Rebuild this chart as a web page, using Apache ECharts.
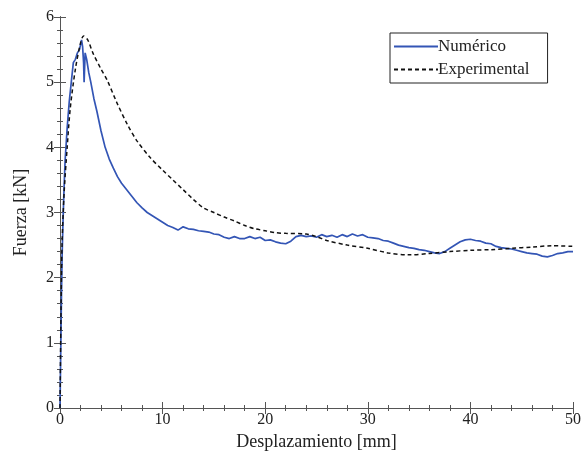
<!DOCTYPE html>
<html><head><meta charset="utf-8">
<script src="https://cdn.jsdelivr.net/npm/echarts@6/dist/echarts.min.js"></script>
<style>html,body{margin:0;padding:0;background:#fff}#c{width:584px;height:457px}</style>
</head><body><div id="c"></div>
<script>
const numX = [0,0.05,0.1,0.15,0.2,0.3,0.4,0.5,0.7,0.9,1.1,1.3,1.5,1.7,1.9,2.1,2.2,2.3,2.35,2.45,2.6,2.8,3.0,3.3,3.6,4.0,4.4,4.8,5.2,5.6,6.0,6.5,7.0,7.5,8.0,8.5,9.0,9.5,10.0,10.5,11.0,11.5,12.0,12.5,13.0,13.5,14.0,14.5,15.0,15.5,16.0,16.5,17.0,17.5,18.0,18.5,19.0,19.5,20.0,20.5,21.0,21.5,22.0,22.5,23.0,23.5,24.0,24.5,25.0,25.5,26.0,26.5,27.0,27.5,28.0,28.5,29.0,29.5,30.0,30.5,31.0,31.5,32.0,32.5,33.0,33.5,34.0,34.5,35.0,35.5,36.0,36.5,37.0,37.5,38.0,38.5,39.0,39.5,40.0,40.5,41.0,41.5,42.0,42.5,43.0,43.5,44.0,44.5,45.0,45.5,46.0,46.5,47.0,47.5,48.0,48.5,49.0,49.5,50.0];
const numY = [0,0.6,1.2,1.8,2.3,2.9,3.4,3.8,4.3,4.7,5.0,5.3,5.35,5.45,5.5,5.65,5.55,5.3,5.0,5.45,5.35,5.15,5.0,4.75,4.55,4.25,4.0,3.82,3.68,3.55,3.45,3.35,3.25,3.15,3.07,3.0,2.95,2.9,2.85,2.8,2.77,2.73,2.78,2.75,2.74,2.72,2.71,2.7,2.67,2.66,2.62,2.6,2.63,2.6,2.6,2.63,2.6,2.62,2.57,2.58,2.55,2.53,2.52,2.56,2.63,2.65,2.63,2.64,2.62,2.66,2.63,2.65,2.62,2.66,2.63,2.67,2.64,2.66,2.62,2.61,2.6,2.57,2.56,2.53,2.5,2.48,2.46,2.45,2.43,2.42,2.4,2.38,2.37,2.4,2.45,2.5,2.55,2.58,2.59,2.57,2.56,2.53,2.52,2.48,2.46,2.45,2.44,2.42,2.4,2.38,2.37,2.36,2.33,2.32,2.34,2.37,2.38,2.4,2.4];
const expX = [0,0.1,0.2,0.4,0.7,1.0,1.5,2.0,2.3,2.7,3.2,4.0,4.6,5.5,6.6,7.5,8.75,10,11,12,13,14,15,16,17,18,19,20,21,22,24,25,26,28,30,32,34,36,38,40,42,44,46,48,50];
const expY = [0,1.5,2.5,3.3,4.0,4.6,5.2,5.6,5.71,5.65,5.45,5.2,5.03,4.7,4.34,4.1,3.85,3.65,3.5,3.35,3.2,3.07,3.0,2.93,2.87,2.8,2.75,2.72,2.69,2.68,2.67,2.63,2.57,2.5,2.45,2.38,2.35,2.37,2.4,2.42,2.43,2.45,2.47,2.49,2.48];
const seriesNames = ['Numérico','Experimental'];

const font = 'Liberation Serif';
const axCol = '#555';
function zip(a,b){return a.map((v,i)=>[v,b[i]]);}
function ax(kind,pos,max,interval,len,extra){
  return Object.assign({
    type:'value',min:0,max:max,interval:interval,position:pos,
    axisLine:{show:true,lineStyle:{color:axCol,width:1}},
    axisTick:{show:true,inside:true,length:len,lineStyle:{color:axCol}},
    axisLabel:{show:false},
    splitLine:{show:false}
  },extra||{});
}
const xLab = {name:'Desplazamiento [mm]',nameLocation:'middle',nameGap:24,
  nameTextStyle:{fontFamily:font,fontSize:18,color:'#222'},
  axisLabel:{show:true,fontFamily:font,fontSize:16,color:'#222',margin:4}};
const yLab = {name:'Fuerza [kN]',nameLocation:'middle',nameGap:30,
  nameTextStyle:{fontFamily:font,fontSize:18,color:'#222'},
  axisLabel:{show:true,fontFamily:font,fontSize:16,color:'#222',margin:6}};
const chart = echarts.init(document.getElementById('c'));
chart.setOption({
  animation:false,
  backgroundColor:'#fff',
  grid:{left:60,right:10,top:17,bottom:49},
  legend:{
    orient:'vertical',left:390,top:33,
    padding:[5,18,5,3],itemGap:6,itemWidth:44,itemHeight:14,
    borderColor:'#222',borderWidth:1,backgroundColor:'#fff',
    itemStyle:{opacity:0},
    textStyle:{fontFamily:font,fontSize:17,color:'#222',padding:[0,0,0,-5]},
    data:seriesNames
  },
  xAxis:[
    ax('x','bottom',50,10,6,xLab),
    ax('x','top',50,10,6),
    ax('x','bottom',50,2,3),
    ax('x','top',50,2,3)
  ],
  yAxis:[
    ax('y','left',6,1,6,yLab),
    ax('y','right',6,1,6),
    ax('y','left',6,0.2,3),
    ax('y','right',6,0.2,3)
  ],
  series:[
    {name:seriesNames[0],type:'line',data:zip(numX,numY),showSymbol:false,symbol:'none',
      lineStyle:{color:'#3355b5',width:1.7},itemStyle:{color:'#3355b5'},z:3},
    {name:seriesNames[1],type:'line',data:zip(expX,expY),showSymbol:false,symbol:'none',smooth:0.3,
      lineStyle:{color:'#111',width:1.5,type:[4,3]},itemStyle:{color:'#111'},z:4}
  ]
});
</script></body></html>
